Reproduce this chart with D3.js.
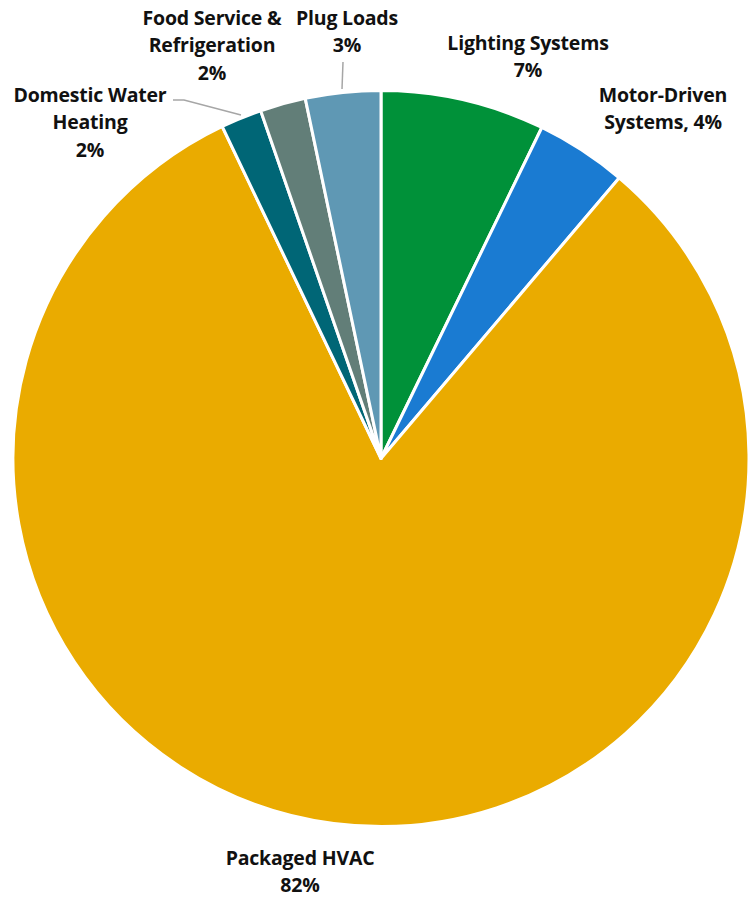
<!DOCTYPE html>
<html><head><meta charset="utf-8">
<script src="https://cdn.jsdelivr.net/npm/d3@7"></script>
<style>body{margin:0;background:#fff}svg{display:block}text{font-family:"Open Sans",Lato,sans-serif;font-weight:bold;font-size:19.5px;fill:#111;letter-spacing:-0.2px}</style>
</head><body>
<script>
const categories = ["Lighting Systems","Motor-Driven Systems","Packaged HVAC","Domestic Water Heating","Food Service & Refrigeration","Plug Loads"];
const values = [7.2, 4.0, 81.7, 1.8, 2.0, 3.3];
const pctLabels = ["7%","4%","82%","2%","2%","3%"];
const colors = ["#009139","#1a7bd2","#eaab00","#006676","#627e78","#5f98b4"];

// label layout (lines and anchor centers)
const labelLines = [
  ["Lighting Systems","7%"],
  ["Motor-Driven","Systems, 4%"],
  ["Packaged HVAC","82%"],
  ["Domestic Water","Heating","2%"],
  ["Food Service &","Refrigeration","2%"],
  ["Plug Loads","3%"]
];
const labelAt = [[528,43],[663,95],[300,858],[90,95],[212,18],[347,18]];

const W=749,H=898,cx=381,cy=458.5,R=368;
const svg=d3.select("body").append("svg").attr("width",W).attr("height",H);
const pie=d3.pie().sort(null).value(d=>d)(values);
const arc=d3.arc().innerRadius(0).outerRadius(R);
const g=svg.append("g").attr("transform",`translate(${cx},${cy})`);
g.selectAll("path").data(pie).join("path")
  .attr("d",arc).attr("fill",(d,i)=>colors[i])
  .attr("stroke","#fff").attr("stroke-width",3).attr("stroke-linejoin","round");

// leader lines
const lead = d3.line();
svg.append("path").attr("d",lead([[343,62],[342,89]])).attr("stroke","#a6a6a6").attr("stroke-width",1.5).attr("fill","none");
svg.append("path").attr("d",lead([[173,100],[184,100],[241,115]])).attr("stroke","#a6a6a6").attr("stroke-width",1.5).attr("fill","none");

labelLines.forEach((lines,i)=>{
  const t=svg.append("text").attr("text-anchor","middle");
  lines.forEach((s,j)=>{
    t.append("tspan").attr("x",labelAt[i][0]).attr("y",labelAt[i][1]+j*27.5).attr("dy","0.35em").text(s);
  });
});
</script>
</body></html>
